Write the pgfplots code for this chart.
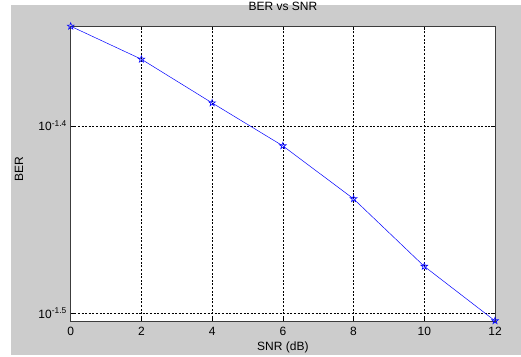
\documentclass[border=0pt]{standalone}
\usepackage{fontspec}
\setmainfont{Liberation Sans}
\usepackage{pgfplots}
\pgfplotsset{compat=1.18}
\definecolor{figgray}{RGB}{204,204,204}
\definecolor{axgray}{RGB}{60,60,60}
\newcommand{\chartfont}{\fontsize{12bp}{14bp}\selectfont}
\pgfdeclareplotmark{pentagram}{%
  \pgfpathmoveto{\pgfpointpolar{90}{\pgfplotmarksize}}%
  \pgfpathlineto{\pgfpointpolar{126}{0.4\pgfplotmarksize}}%
  \pgfpathlineto{\pgfpointpolar{162}{\pgfplotmarksize}}%
  \pgfpathlineto{\pgfpointpolar{198}{0.4\pgfplotmarksize}}%
  \pgfpathlineto{\pgfpointpolar{234}{\pgfplotmarksize}}%
  \pgfpathlineto{\pgfpointpolar{270}{0.4\pgfplotmarksize}}%
  \pgfpathlineto{\pgfpointpolar{306}{\pgfplotmarksize}}%
  \pgfpathlineto{\pgfpointpolar{342}{0.4\pgfplotmarksize}}%
  \pgfpathlineto{\pgfpointpolar{18}{\pgfplotmarksize}}%
  \pgfpathlineto{\pgfpointpolar{54}{0.4\pgfplotmarksize}}%
  \pgfpathclose
  \pgfusepathqstroke
}
\begin{document}
\begin{tikzpicture}[x=1bp,y=1bp]
\path[use as bounding box] (-70.7,-34.7) rectangle (450.3,321.3);
\fill[figgray] (-59.7,-33.7) rectangle (450.3,316.3);
\begin{axis}[
  at={(0,0)}, anchor=south west,
  scale only axis,
  width=424.3bp, height=295.3bp,
  ymode=log,
  xmin=0, xmax=12,
  ymin=0.03130, ymax=0.04500,
  xtick={0,2,4,6,8,10,12},
  ytick={0.0316228,0.0398107},
  yticklabels={10\textsuperscript{-1.5},10\textsuperscript{-1.4}},
  minor ytick={},
  /pgf/number format/assume math mode=true,
  axis background/.style={fill=white},
  axis line style={axgray, line width=0.8pt},
  tick align=inside,
  major tick length=4bp,
  tick style={black, line width=0.5pt},
  grid=major,
  grid style={black, dash pattern=on 2bp off 1.6bp, line width=0.5pt},
  xticklabel style={font=\chartfont, anchor=base, yshift=-14bp, inner sep=0pt},
  yticklabel style={font=\chartfont, anchor=east, xshift=-3.7bp, inner sep=0pt},
  title={BER vs SNR},
  title style={font=\chartfont, at={(axis description cs:0.5,1)}, anchor=base, yshift=10bp, inner sep=0pt},
  xlabel={SNR (dB)},
  xlabel style={font=\chartfont, at={(axis description cs:0.5,0)}, anchor=base, yshift=-29bp, inner sep=0pt},
  ylabel={BER},
  every axis y label/.style={font=\chartfont, at={(axis description cs:-0.1124,0.515)}, rotate=90, anchor=base, inner sep=0pt},
  clip=false,
]
\addplot[color=blue, line width=0.5pt, mark=pentagram, mark size=3.5bp, mark options={solid, line width=0.6pt}]
coordinates {
(0,0.04499)
(2,0.04320)
(4,0.04094)
(6,0.03884)
(8,0.03639)
(10,0.03349)
(12,0.03132)
};
\end{axis}
\end{tikzpicture}
\end{document}
